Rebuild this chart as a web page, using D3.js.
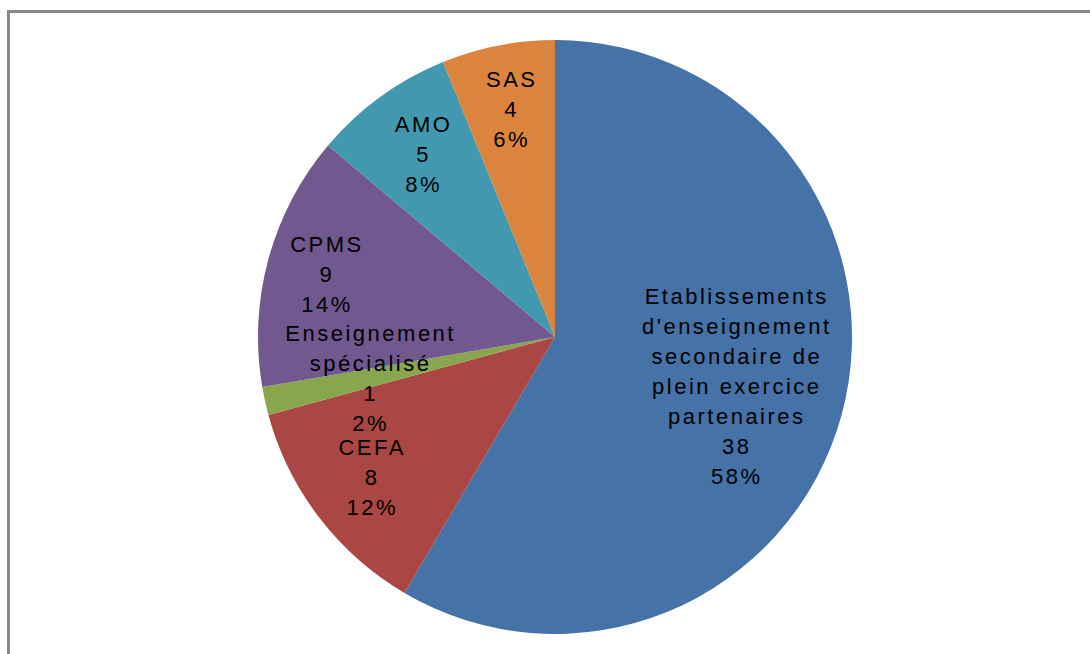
<!DOCTYPE html>
<html>
<head>
<meta charset="utf-8">
<script src="https://cdn.jsdelivr.net/npm/d3@7"></script>
<style>
  body { margin: 0; background: #fff; }
  svg { display: block; }
</style>
</head>
<body>
<div id="chart"></div>
<script>
// data
const labels = [
  ["Etablissements", "d'enseignement", "secondaire de", "plein exercice", "partenaires"],
  ["CEFA"],
  ["Enseignement", "spécialisé"],
  ["CPMS"],
  ["AMO"],
  ["SAS"]
];
const values = [38, 8, 1, 9, 5, 4];
const colours = ["#4572A7", "#AA4643", "#89A54E", "#71588F", "#4198AF", "#DB843D"];

// where excel put each label, as a fraction of the radius
const labelRadius = [0.63, 0.78, 0.64, 0.8, 0.76, 0.78];

const width = 1090;
const height = 654;
const cx = 555, cy = 337, radius = 297;
const lineStep = 30;
const spacing = 2.5;

const svg = d3.select("#chart").append("svg")
  .attr("width", width)
  .attr("height", height);

// chart frame (only top and left visible)
svg.append("rect")
  .attr("x", 8.5)
  .attr("y", 11.5)
  .attr("width", width + 20)
  .attr("height", height + 20)
  .attr("fill", "none")
  .attr("stroke", "#898989")
  .attr("stroke-width", 3);

const total = d3.sum(values);
const pie = d3.pie().sort(null).value(d => d);
const arcs = pie(values);
const arc = d3.arc().innerRadius(0).outerRadius(radius);

const g = svg.append("g").attr("transform", `translate(${cx},${cy})`);

g.selectAll("path")
  .data(arcs)
  .join("path")
  .attr("d", arc)
  .attr("fill", (d, i) => colours[i]);

const label = g.append("g")
  .attr("font-family", "Liberation Sans, Arial, sans-serif")
  .attr("font-size", 22)
  .attr("letter-spacing", spacing)
  .attr("fill", "#000")
  .attr("text-anchor", "middle")
  .selectAll("text")
  .data(arcs)
  .join("text")
  .attr("transform", (d, i) => {
    const r = labelRadius[i] * radius;
    const [x, y] = d3.arc().innerRadius(r).outerRadius(r).centroid(d);
    return `translate(${x + spacing / 2},${y})`;
  });

label.each(function(d, i) {
  const lines = labels[i].concat([String(values[i]), Math.round(d.value / total * 100) + "%"]);
  d3.select(this).selectAll("tspan")
    .data(lines)
    .join("tspan")
    .attr("x", 0)
    .attr("y", (t, j) => (j - (lines.length - 1) / 2) * lineStep + 7.5)
    .text(t => t);
});
</script>
</body>
</html>
